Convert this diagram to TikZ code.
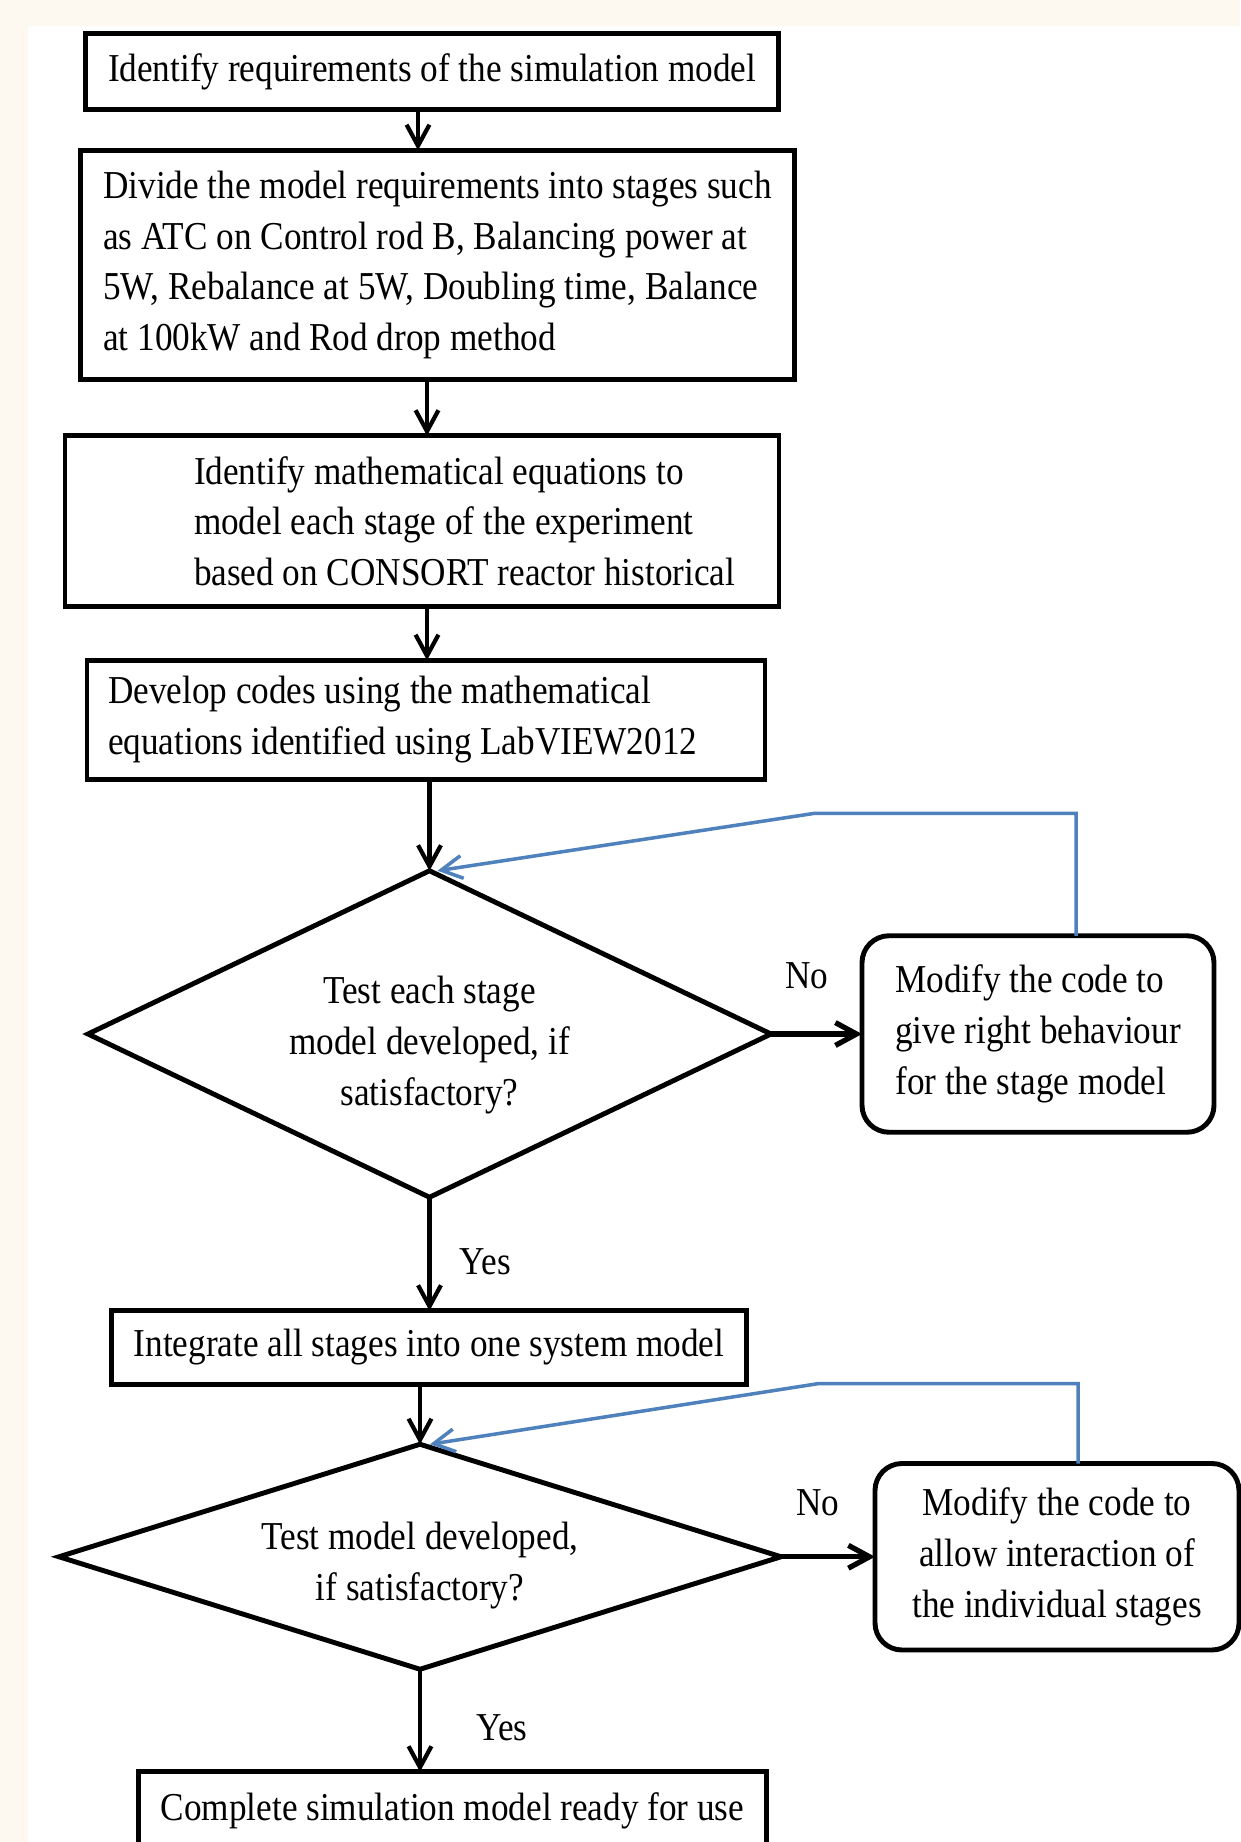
\documentclass[tikz,border=0pt]{standalone}
\usepackage{fontspec}
\setmainfont{Liberation Serif}[FakeStretch=0.89]
\usetikzlibrary{positioning, arrows.meta, shapes.geometric}
\definecolor{cPage}{HTML}{FDF8F0}
\definecolor{cLoop}{HTML}{4F81BD}
\newcommand{\flowfont}{\fontsize{22.5}{29}\selectfont}
\tikzset{
  module/.style    ={draw, line width=2.8pt, outer sep=0pt, font=\flowfont,
                     inner xsep=0.45cm, inner ysep=0pt},
  stepbox/.style   ={module, align=flush left},
  centerbox/.style ={module, align=center},
  decision/.style  ={module, diamond, inner sep=0pt},
  decisiontext/.style={font=\flowfont, align=center, inner sep=0pt},
  fixbox/.style    ={module, rounded corners=0.54cm},
  flow/.style      ={-{Straight Barb[length=12pt,width=13pt]}, line width=2.4pt},
  noflow/.style    ={flow, line width=3pt},
  loopback/.style  ={flow, draw=cLoop, line width=2pt},
  edgelabel/.style ={font=\flowfont, inner sep=0pt},
}
\begin{document}
\begin{tikzpicture}

  % ============================================================
  % PAGE
  % ============================================================
  \useasboundingbox (0,0) rectangle (24.8,-36.84);
  \fill[cPage] (0,0) rectangle (24.8,-36.84);
  \fill[white] (0.56,-0.52) rectangle (24.8,-36.84);

  % ============================================================
  % MAIN COLUMN
  % ============================================================
  \node[stepbox, minimum width=13.87cm, minimum height=1.53cm] (req)
    at (8.64,-1.43) {Identify requirements of the simulation model};

  \node[stepbox, below=0.81cm of req, xshift=0.11cm,
        minimum width=14.08cm, minimum height=4.59cm] (stages) {%
    Divide the model requirements into stages such\\
    as ATC on Control rod B, Balancing power at\\
    5W, Rebalance at 5W, Doubling time, Balance\\
    at 100kW and Rod drop method};

  \node[stepbox, below=1.12cm of stages, xshift=-0.31cm,
        minimum width=14.28cm, minimum height=3.42cm,
        text width=13.38cm] (eqns) {%
    \leftskip=2.13cm Identify mathematical equations to\\
    model each stage of the experiment\\
    based on CONSORT reactor historical\par};

  \node[stepbox, below=1.07cm of eqns, xshift=0.08cm,
        minimum width=13.56cm, minimum height=2.39cm,
        text width=12.72cm, inner xsep=0.42cm] (codes) {%
    Develop codes using the mathematical\\
    equations identified using LabVIEW2012};

  \node[decision, below=1.82cm of codes, xshift=0.07cm,
        minimum width=13.66cm, minimum height=6.53cm,
        label={[decisiontext, yshift=-0.22cm]center:{Test each stage\\
               model developed, if\\ satisfactory?}}] (test1) {};

  \node[centerbox, below=2.27cm of test1, xshift=-0.01cm,
        minimum width=12.56cm, minimum height=1.47cm] (integ)
    {Integrate all stages into one system model};

  \node[decision, below=1.2cm of integ, xshift=-0.18cm,
        minimum width=14.44cm, minimum height=4.5cm,
        label={[decisiontext, yshift=-0.18cm]center:{Test model developed,\\
               if satisfactory?}}] (test2) {};

  \node[centerbox, below=2.05cm of test2, xshift=0.65cm,
        minimum width=12.46cm, text height=0.97cm, text depth=2cm] (ready)
    {Complete simulation model ready for use};

  % ============================================================
  % FIX BOXES (right)
  % ============================================================
  \node[fixbox, align=left, right=1.82cm of test1,
        minimum width=7.04cm, minimum height=3.93cm] (fix1) {%
    Modify the code to\\
    give right behaviour\\
    for the stage model};

  \node[fixbox, align=center, right=1.88cm of test2,
        minimum width=7.28cm, minimum height=3.73cm] (fix2) {%
    Modify the code to\\
    allow interaction of\\
    the individual stages};

  % ============================================================
  % ARROWS
  % ============================================================
  \draw[flow] ([xshift=-0.28cm]req.south) -- ([xshift=-0.28cm]req.south |- stages.north);
  \draw[flow] ([xshift=-0.21cm]stages.south) -- ([xshift=-0.21cm]stages.south |- eqns.north);
  \draw[flow] ([xshift=0.1cm]eqns.south) -- ([xshift=0.1cm]eqns.south |- codes.north);
  \draw[flow] (test1.north |- codes.south) -- (test1.north);

  % first test loop
  \draw[flow] (test1.south) -- (test1.south |- integ.north)
       node[midway, edgelabel, right=0.56cm, yshift=-0.15cm] {Yes};
  \draw[noflow] (test1.east) -- (fix1.west)
       node[midway, edgelabel, above=0.84cm, xshift=-0.2cm] {No};
  \draw[loopback] ([xshift=0.76cm]fix1.north) -- ++(0,2.45) -- ++(-5.22,0)
       -- ([xshift=0.16cm]test1.north);

  % second test loop
  \draw[flow] (test2.north |- integ.south) -- (test2.north);
  \draw[noflow] (test2.east) -- (fix2.west)
       node[midway, edgelabel, above=0.77cm, xshift=-0.2cm] {No};
  \draw[loopback] ([xshift=0.42cm]fix2.north) -- ++(0,1.6) -- ++(-5.18,0)
       -- ([xshift=0.2cm]test2.north);
  \draw[flow] (test2.south) -- (test2.south |- ready.north)
       node[midway, edgelabel, right=1.08cm, yshift=-0.15cm] {Yes};

\end{tikzpicture}
\end{document}
